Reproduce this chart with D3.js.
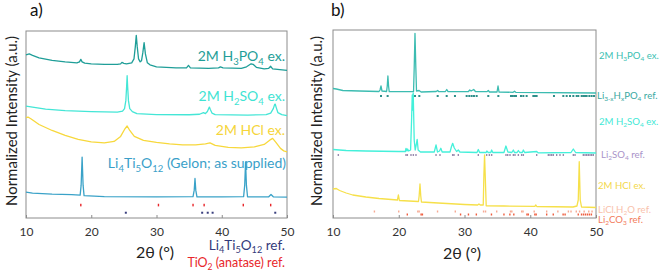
<!DOCTYPE html>
<html>
<head>
<meta charset="utf-8">
<script src="https://cdn.jsdelivr.net/npm/d3@7"></script>
<style>
  body { margin: 0; background: #fff; }
  svg text { font-family: Lato, "Open Sans", sans-serif; }
</style>
</head>
<body>
<svg id="chart" width="661" height="273"></svg>
<script>
// ---- data: 2theta (deg) vs normalized intensity (offset, a.u.) ----
const ticks2t = [10, 20, 30, 40, 50];

// panel a
const aH3PO4 = [[10,164],[10.5,165],[11,163.5],[12,161],[14,158.5],[16,157],[17.8,156],[18.2,157],[18.4,159.5],[18.6,157],[19,155.7],[20,155],[22,154.5],[24,154.5],[24.5,155],[24.7,156.5],[25.0,155.5],[25.4,155],[26.2,156],[26.55,160],[26.75,172],[26.9,183.7],[27.05,172],[27.25,160],[27.5,157],[27.7,158],[27.9,166],[28.1,176.3],[28.3,165],[28.6,156],[29,154],[30,152],[33,151],[34.6,151],[34.9,153.5],[35.2,151],[38,150.5],[39.5,151],[39.8,152],[40.2,151],[43,150.5],[43.8,152],[44.5,155],[44.8,154.5],[45.3,151.5],[46.5,150],[47.2,150.5],[47.5,152.5],[47.8,150],[50,148.5]];
const aH2SO4 = [[10,112.5],[11,111.5],[13,109.5],[16,108],[20,107],[24,106.5],[24.8,107.5],[25.1,110],[25.3,118],[25.42,132],[25.5,143],[25.58,132],[25.7,118],[25.9,110],[26.3,107],[27,105],[30,104],[35,103.8],[36.6,104.3],[37.2,106],[37.5,105],[37.8,107],[38.0,110],[38.1,111.5],[38.25,109],[38.5,105.5],[39,104],[44,103.5],[46.8,104],[47.5,105.5],[47.9,110],[48.1,114],[48.2,114.5],[48.35,111],[48.6,106],[49.2,104],[50,103]];
const aHCl = [[10,101],[10.3,101.5],[10.8,99.5],[12,94],[14,88],[16,83],[18,79],[20,76.5],[22,75.5],[23.5,77],[24.5,82],[25.1,89],[25.5,92.5],[25.9,88],[26.6,82],[28,78],[30,76],[32,74.5],[34,73.5],[36,73.5],[37.5,74.5],[38.2,75.5],[39,73],[41,71],[43,70.5],[45,71.5],[46.5,74],[47.4,78.5],[47.8,80],[48.3,76],[49,70],[49.5,67.5],[50,66.5]];
const aLTO = [[10,26],[11,25],[14,24],[17,23.5],[18.3,23],[18.45,33],[18.6,61.3],[18.75,33],[18.9,22.5],[22,21.5],[30,21.3],[35.6,21.5],[35.78,28],[35.9,39.7],[36.02,28],[36.2,21.3],[40,21.3],[43.35,21.5],[43.52,33],[43.65,56.3],[43.78,33],[43.95,21.3],[47.2,21.3],[47.55,23.7],[47.9,21.3],[50,21]];
const aRefRed = [18.4, 30.3, 35.6, 37.3, 43.3, 47.5];
const aRefNavy = [25.3, 37.0, 37.85, 38.6, 48.2];

// panel b
const bH3PO4 = [[10,129.5],[10.5,129],[11.5,127.5],[14,127],[17,126.5],[17.15,128],[17.3,132],[17.45,127],[18.15,126.5],[18.25,132],[18.35,142],[18.45,132],[18.55,126.3],[22.25,126.5],[22.35,150],[22.47,184.7],[22.6,150],[22.7,127],[23.1,127.5],[23.4,126],[25.7,126.5],[25.92,127.5],[26.1,126.3],[27.1,126.5],[27.3,128.5],[27.5,126.3],[30.6,126.5],[30.8,128],[31.0,127],[31.4,128.5],[31.7,126.3],[33.4,126.3],[33.62,127.5],[33.8,126],[34.95,126],[35.1,132],[35.25,126],[37.4,125.7],[37.6,126.8],[37.8,125.7],[50,125]];
const bH2SO4 = [[10,68.5],[12,67.5],[15,67],[20,66.5],[21.0,66.5],[21.1,69.7],[21.25,67],[21.35,69],[21.5,67],[21.8,68],[21.95,98],[22.05,123],[22.12,108],[22.2,125],[22.35,78],[22.5,68],[22.65,73],[22.8,78.7],[22.95,68],[23.3,66],[25.4,66],[25.67,73],[25.9,66],[26.2,67],[26.4,69.7],[26.6,66],[27.8,66],[28.0,71],[28.2,74.7],[28.45,70],[28.8,66.5],[29.06,68],[29.3,66],[31.9,65.5],[32.1,68.5],[32.3,65.5],[33.3,65.5],[33.4,67],[33.6,65.5],[34.0,65.5],[34.13,68],[34.3,65.5],[36.0,65.5],[36.3,72],[36.6,66],[37.2,65.5],[37.43,68],[37.6,65.5],[38.0,65.5],[38.19,67.5],[38.4,65.5],[38.8,65.5],[38.95,68],[39.15,65.5],[40.98,66.5],[41.2,65.2],[46.2,65.5],[46.55,69],[46.9,65.5],[50,65]];
const bHCl = [[10,29],[10.5,29.5],[11,27.5],[12,25],[13,23],[15,21],[17,19.5],[19.8,18],[19.95,23],[20.1,17.5],[23.0,16.5],[23.1,22],[23.23,34],[23.35,22],[23.45,16],[26,15],[30,13.5],[32.0,13],[32.2,14],[32.4,13],[32.85,13],[32.95,43],[33.05,63],[33.15,43],[33.3,12.2],[36,12],[40.7,11.7],[40.85,13],[41.0,11.5],[46.5,11],[47.1,12],[47.3,18],[47.45,56.3],[47.6,18],[47.8,11],[50,10.5]];
const bRefH3PO4 = [17.3,18.31,22.47,23.13,25.92,27.29,28.55,30.33,30.73,31.09,31.44,31.85,33.62,35.15,37.07,37.33,37.58,37.83,38.59,38.95,39.45,40.47,40.72,40.97,43.61,45.03,45.54,46.05,46.55,47.06,47.31,47.82,48.07,48.33,48.58,48.99,49.34,49.7];
const bRefLi2SO4 = [10.81,21.1,21.31,21.86,22.22,22.62,25.67,26.27,28.2,28.4,29.06,32.1,33.37,33.78,34.13,36.31,36.57,36.92,37.43,37.68,38.19,38.69,38.95,40.98,42.75,43.0,43.26,43.51,44.02,44.52,45.03,46.55,46.81,48.07,48.33,48.58,48.83,49.09,49.34,49.59];
const bRefLiCl = [16.3,20.0,22.9,23.1,25.9,28.6,32.9,33.2,34.9,37.0,37.2,38.7,38.9,40.6,42.5,44.2,45.8,46.2,47.0,47.5,48.2,48.9,49.4];
const bRefLi2CO3 = [21.3,23.4,23.6,29.4,30.6,31.8,34.1,36.0,36.9,37.5,39.5,39.7,40.7,40.9,42.5,43.5,45.0,45.3,47.3,47.8,48.1,48.4,48.7,49.0,49.3];

const svg = d3.select("#chart");

// text with _x / _{xx} subscripts
function rich(sel, str, size) {
  const re = /_\{([^}]*)\}|_(.)/g;
  let last = 0, m, down = false;
  const sh = size * 0.25;
  while ((m = re.exec(str)) !== null) {
    if (m.index > last) {
      sel.append("tspan").attr("dy", down ? -sh : 0).text(str.slice(last, m.index));
      down = false;
    }
    sel.append("tspan").attr("font-size", size * 0.68).attr("dy", down ? 0 : sh).text(m[1] || m[2]);
    down = true;
    last = re.lastIndex;
  }
  if (last < str.length) sel.append("tspan").attr("dy", down ? -sh : 0).text(str.slice(last));
  return sel;
}

function label(x, y, str, color, size, anchor) {
  const t = svg.append("text")
    .attr("x", x).attr("y", y)
    .attr("fill", color)
    .attr("font-size", size)
    .attr("text-anchor", anchor || "start");
  rich(t, str, size);
  return t;
}

function drawPanel(p) {
  const x = d3.scaleLinear().domain([10, 50]).range([p.left, p.right]);
  const y = d3.scaleLinear().domain([0, 188]).range([218, p.top]);

  svg.append("g")
    .attr("transform", "translate(0,218)")
    .call(d3.axisBottom(x)
      .tickValues(ticks2t)
      .tickSizeInner(-3)
      .tickSizeOuter(0)
      .tickPadding(9))
    .call(g => g.select(".domain").remove())
    .call(g => g.selectAll("line").attr("stroke", "#8c8c8c"))
    .call(g => g.selectAll("text").attr("fill", "#333").attr("font-size", 12).attr("font-family", "Lato"));

  svg.append("rect")
    .attr("x", p.left).attr("y", p.top)
    .attr("width", p.right - p.left).attr("height", 218 - p.top)
    .attr("fill", "none").attr("stroke", "#8c8c8c").attr("stroke-width", 1);

  const line = d3.line().x(d => x(d[0])).y(d => y(d[1]));
  p.traces.forEach(t => {
    svg.append("path")
      .datum(t.data)
      .attr("fill", "none")
      .attr("stroke", t.color)
      .attr("stroke-width", 1.3)
      .attr("stroke-linejoin", "round")
      .attr("d", line);
  });

  p.refs.forEach(r => {
    svg.selectAll(null)
      .data(r.data)
      .enter()
      .append("rect")
      .attr("x", d => x(d) - r.w / 2)
      .attr("y", y(r.level) - r.h / 2)
      .attr("width", r.w)
      .attr("height", r.h)
      .attr("fill", r.color);
  });
}

drawPanel({
  left: 26, right: 287, top: 31,
  traces: [
    { data: aH3PO4, color: "#1f9e98" },
    { data: aH2SO4, color: "#44e6d6" },
    { data: aHCl, color: "#f7d83c" },
    { data: aLTO, color: "#3aa2c8" }
  ],
  refs: [
    { data: aRefRed, level: 13, color: "#e8262a", w: 1.4, h: 2.6 },
    { data: aRefNavy, level: 5.3, color: "#3a3f7e", w: 2, h: 2 }
  ]
});

drawPanel({
  left: 333, right: 596, top: 30,
  traces: [
    { data: bH3PO4, color: "#3cbcb1" },
    { data: bH2SO4, color: "#44f0da" },
    { data: bHCl, color: "#f6e04a" }
  ],
  refs: [
    { data: bRefH3PO4, level: 122, color: "#2e8f8a", w: 2, h: 2 },
    { data: bRefLi2SO4, level: 63, color: "#8d7fa6", w: 1.4, h: 1.8 },
    { data: bRefLiCl, level: 6.5, color: "#f6a993", w: 1.4, h: 2 },
    { data: bRefLi2CO3, level: 3.5, color: "#ee5d3e", w: 1.4, h: 2 }
  ]
});

// panel letters and axis titles
label(30, 16, "a)", "#111", 17);
label(331, 16, "b)", "#111", 17);

svg.append("text").attr("transform", "translate(17,121) rotate(-90)")
  .attr("text-anchor", "middle").attr("font-size", 15).attr("fill", "#222")
  .text("Normalized Intensity (a.u.)");
svg.append("text").attr("transform", "translate(322,121) rotate(-90)")
  .attr("text-anchor", "middle").attr("font-size", 15).attr("fill", "#222")
  .text("Normalized Intensity (a.u.)");

label(155, 258, "2θ (°)", "#222", 16, "middle");
label(462, 259, "2θ (°)", "#222", 16, "middle");

// panel a series labels
label(285, 61, "2M H_3PO_4 ex.", "#1f9e98", 14, "end");
label(285, 101, "2M H_2SO_4 ex.", "#3fe3d3", 14, "end");
label(285, 135, "2M HCl ex.", "#f5d53a", 14, "end");
label(286, 168, "Li_4Ti_5O_{12} (Gelon; as supplied)", "#3a9fc9", 14, "end");
label(285, 250, "Li_4Ti_5O_{12} ref.", "#333a7a", 13.5, "end");
label(285, 267, "TiO_2 (anatase) ref.", "#e8262a", 12.5, "end");

// panel b series labels
label(599, 59, "2M H_3PO_4 ex.", "#3cbfb3", 9.6);
label(597, 99, "Li_{3-x}H_xPO_4 ref.", "#3aa9a2", 9.6);
label(599, 125, "2M H_2SO_4 ex.", "#3fe8d6", 9.6);
label(601, 158, "Li_2SO_4 ref.", "#a993c9", 9.6);
label(598, 189, "2M HCl ex.", "#f3d84a", 9.6);
label(598, 212.5, "LiCl.H_2O ref.", "#f9c2ac", 9.6);
label(598, 222.5, "Li_2CO_3 ref.", "#f27c5c", 9.6);
</script>
</body>
</html>
